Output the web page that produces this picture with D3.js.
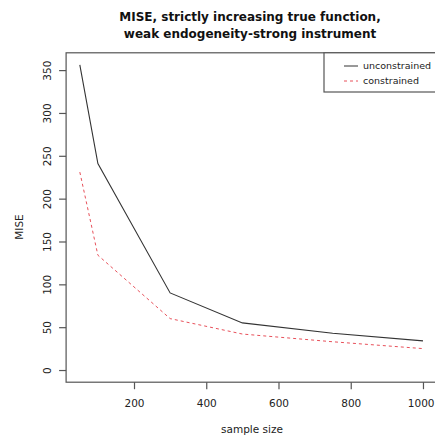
<!DOCTYPE html>
<html><head><meta charset="utf-8">
<script src="https://cdn.jsdelivr.net/npm/d3@7"></script>
<style>body{margin:0;background:#fff}</style>
</head><body>
<script>
const sampleSize = [50, 100, 300, 500, 750, 1000];
const unconstrained = [356, 241, 90, 55, 43, 34];
const constrained = [231, 134, 60, 42, 33, 25];
const xTicks = [200, 400, 600, 800, 1000];
const yTicks = [0, 50, 100, 150, 200, 250, 300, 350];
const titleLines = ["MISE, strictly increasing true function,", "weak endogeneity-strong instrument"];
const seriesNames = ["unconstrained", "constrained"];

const W = 435, H = 440;
const svg = d3.select("body").append("svg").attr("width", W).attr("height", H)
  .style("font-family", "'DejaVu Sans', sans-serif");

const x = d3.scaleLinear().domain([12, 1038]).range([66.1, 436.7]);
const y = d3.scaleLinear().domain([-14.2, 370.2]).range([382.2, 52.8]);
const axisCol = "#555";

// box
svg.append("rect").attr("x", x(12)).attr("y", y(370.2))
  .attr("width", x(1038) - x(12)).attr("height", y(-14.2) - y(370.2))
  .attr("fill", "none").attr("stroke", axisCol).attr("stroke-width", 1.2);

// x axis
const gx = svg.append("g").attr("transform", `translate(0,${y(-14.2)})`)
  .call(d3.axisBottom(x).tickValues(xTicks).tickFormat(d3.format("d")).tickSize(7).tickSizeOuter(0).tickPadding(10));
gx.select(".domain").remove();
gx.selectAll("line").attr("stroke", axisCol).attr("stroke-width", 1.2);
gx.selectAll("text").attr("font-size", 10.5).attr("fill", "#222").attr("font-family", "'DejaVu Sans', sans-serif");
// keep the last label inside the window
gx.selectAll(".tick").filter(d => d === 1000).select("text").attr("text-anchor", "end").attr("x", 434 - x(1000));

// y axis
const gy = svg.append("g").attr("transform", `translate(${x(12)},0)`)
  .call(d3.axisLeft(y).tickValues(yTicks).tickFormat(d3.format("d")).tickSize(7).tickSizeOuter(0));
gy.select(".domain").remove();
gy.selectAll("line").attr("stroke", axisCol).attr("stroke-width", 1.2);
gy.selectAll("text").attr("font-size", 10.5).attr("fill", "#222").attr("font-family", "'DejaVu Sans', sans-serif")
  .attr("transform", "rotate(-90)").attr("x", 0).attr("y", -19).attr("dy", "0.35em")
  .attr("text-anchor", "middle");

// lines
const line = d3.line().x((d, i) => x(sampleSize[i])).y(d => y(d));
svg.append("path").datum(unconstrained).attr("d", line)
  .attr("fill", "none").attr("stroke", "#333").attr("stroke-width", 1.1);
svg.append("path").datum(constrained).attr("d", line)
  .attr("fill", "none").attr("stroke", "#e8505a").attr("stroke-width", 1).attr("stroke-dasharray", "3,3");

// title
svg.append("g").selectAll("text").data(titleLines).join("text")
  .attr("x", 250).attr("y", (d, i) => 21 + i * 17)
  .attr("text-anchor", "middle").attr("font-weight", "bold").attr("font-size", 12)
  .attr("fill", "#111").text(d => d);

// axis labels
svg.append("text").attr("x", 252).attr("y", 433).attr("text-anchor", "middle")
  .attr("font-size", 10.5).attr("fill", "#222").text("sample size");
svg.append("text").attr("transform", "translate(23,227) rotate(-90)").attr("text-anchor", "middle")
  .attr("font-size", 10.5).attr("fill", "#222").text("MISE");

// legend
const lg = svg.append("g");
lg.append("rect").attr("x", 324).attr("y", y(370.2)).attr("width", 140).attr("height", 92 - y(370.2))
  .attr("fill", "#fff").attr("stroke", axisCol).attr("stroke-width", 1.2);
const styles = [{c: "#333", d: null}, {c: "#e8505a", d: "3,3"}];
seriesNames.forEach((n, i) => {
  const yy = 66 + i * 15;
  lg.append("line").attr("x1", 344).attr("x2", 358).attr("y1", yy).attr("y2", yy)
    .attr("stroke", styles[i].c).attr("stroke-width", 1).attr("stroke-dasharray", styles[i].d);
  lg.append("text").attr("x", 363).attr("y", yy).attr("dy", "0.35em")
    .attr("font-size", 9.5).attr("fill", "#222").text(n);
});
</script>
</body></html>
